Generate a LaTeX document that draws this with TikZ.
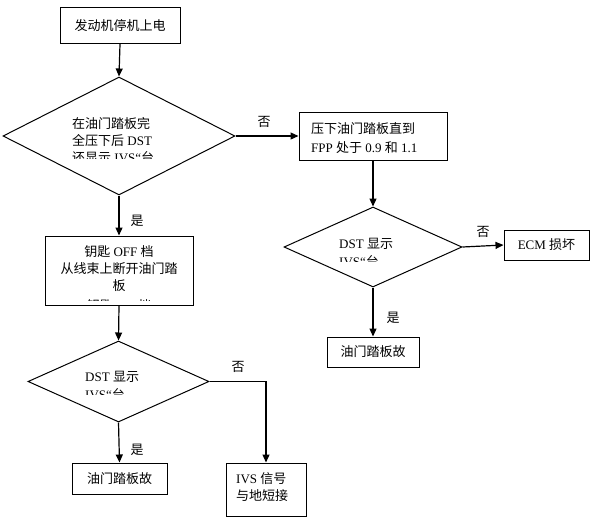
\documentclass[tikz,border=0pt]{standalone}
\usepackage{fontspec}
\setmainfont{Liberation Serif}
\newfontfamily\cjk{Noto Sans CJK SC}
\usetikzlibrary{shapes.geometric,arrows.meta}
\newcommand\zh[1]{{\cjk #1}}
\begin{document}
\begin{tikzpicture}[x=1pt,y=-1pt,
  txt/.style={font=\fontsize{13}{17.3}\selectfont, inner sep=0pt},
  box/.style={draw, line width=1pt, inner sep=0pt, font=\fontsize{13}{17}\selectfont, align=center},
  dia/.style={draw, line width=1pt, diamond, inner sep=0pt},
  arr/.style={line width=1.2pt, -{Triangle[length=8pt,width=7pt]}},
  lbl/.style={font=\fontsize{13}{17}\selectfont, inner sep=0pt}
]
\useasboundingbox (0,0) rectangle (591,517);

% boxes
\node[box, minimum width=120pt, minimum height=36pt] (b1) at (120,25.5) {\zh{发动机停机上电}};
\node[box, minimum width=148pt, minimum height=48pt] (b2) at (373,136) {};
\node[txt, anchor=north west, align=left, font=\fontsize{13}{19}\selectfont] (t2) at (311,122) {\zh{压下油门踏板直到}\\FPP \zh{处于} 0.9 \zh{和} 1.1};
\node[box, minimum width=85pt, minimum height=30pt] (b7) at (546.5,245) {ECM \zh{损坏}};
\node[box, minimum width=92pt, minimum height=30pt] (b4) at (373,352) {\zh{油门踏板故}};
\node[box, minimum width=148pt, minimum height=69pt] (b3) at (119,270.5) {};
\node[txt, anchor=north, align=center] (t3) at (119,245) {\zh{钥匙} OFF \zh{档}\\\zh{从线束上断开油门踏}\\\zh{板}};
\begin{scope}
  \clip (50,290) rectangle (190,300);
  \node[txt, anchor=north] (t3b) at (119,299.6) {\zh{钥匙} ON \zh{档}};
\end{scope}
\node[box, minimum width=95pt, minimum height=31pt] (b5) at (119.5,478.5) {\zh{油门踏板故}};
\node[box, minimum width=80pt, minimum height=53pt] (b6) at (266,489.5) {};
\node[txt, anchor=north west, align=left] (t6) at (236,472) {IVS \zh{信号}\\\zh{与地短接}};

% diamonds
\node[dia, minimum width=232pt, minimum height=118pt] (d1) at (119,136) {};
\begin{scope}
  \clip (60,110) rectangle (180,158.5);
  \node[txt, anchor=north west, align=left] (t1) at (72,117) {\zh{在油门踏板完}\\\zh{全压下后} DST\\\zh{还显示} IVS“\zh{台}};
\end{scope}
\node[dia, minimum width=178pt, minimum height=80pt] (d2) at (373,247) {};
\begin{scope}
  \clip (320,230) rectangle (430,261.5);
  \node[txt, anchor=north west, align=left] (tt2) at (339,238.5) {DST \zh{显示}\\IVS“\zh{台}};
\end{scope}
\node[dia, minimum width=181pt, minimum height=81pt] (d3) at (118.5,381.5) {};
\begin{scope}
  \clip (70,365) rectangle (170,394.5);
  \node[txt, anchor=north west, align=left] (tt3) at (85,371.5) {DST \zh{显示}\\IVS“\zh{台}};
\end{scope}

% connectors
\draw[arr] (b1.south) -- (d1.north);
\draw[arr] (d1.east) -- (b2.west);
\draw[arr] (b2.south) -- (d2.north);
\draw[arr] (d2.east) -- (b7.west);
\draw[arr] (d2.south) -- (b4.north);
\draw[arr] (d1.south) -- (b3.north);
\draw[arr] (b3.south) -- (d3.north);
\draw[arr] (d3.east) -| (b6.north);
\draw[arr] (d3.south) -- (b5.north);

% labels
\node[lbl] (n1) at (264,122) {\zh{否}};
\node[lbl] (y1) at (137,221) {\zh{是}};
\node[lbl] (n2) at (483,232) {\zh{否}};
\node[lbl] (y2) at (393,318) {\zh{是}};
\node[lbl] (n3) at (238,367) {\zh{否}};
\node[lbl] (y3) at (137,450) {\zh{是}};
\end{tikzpicture}
\end{document}
